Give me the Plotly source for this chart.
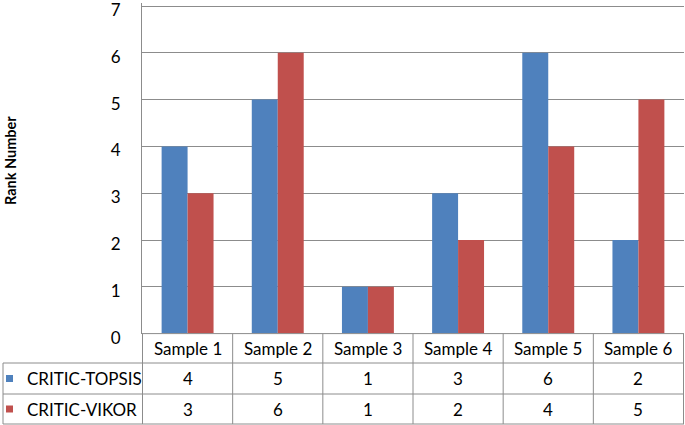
import plotly.graph_objects as go

categories = ["Sample 1", "Sample 2", "Sample 3", "Sample 4", "Sample 5", "Sample 6"]
series_names = ["CRITIC-TOPSIS", "CRITIC-VIKOR"]
topsis = [4, 5, 1, 3, 6, 2]
vikor = [3, 6, 1, 2, 4, 5]
y_ticks = [0, 1, 2, 3, 4, 5, 6, 7]
y_title = "Rank Number"

W, H = 685, 425
BLUE = "#4F81BD"
RED = "#C0504D"
GRID = "#8C8C8C"
FONT = "Lato"

def py(p):
    return (H - p) / H

def px(p):
    return p / W

x0_pix, x1_pix = 142, 684
y0_pix = 333.6
y_max = 7.06
y_top_pix = y0_pix - (y0_pix - 6) / 7 * y_max

fig = go.Figure()
for name, vals, col in [(series_names[0], topsis, BLUE), (series_names[1], vikor, RED)]:
    fig.add_trace(go.Bar(x=categories, y=vals, name=name,
                         marker=dict(color=col, line=dict(width=0))))

fig.update_layout(
    width=W, height=H,
    margin=dict(l=0, r=0, t=0, b=0, autoexpand=False),
    paper_bgcolor="white", plot_bgcolor="white",
    barmode="group", bargap=0.424, bargroupgap=0,
    showlegend=False,
    font=dict(family=FONT, size=17, color="black"),
    xaxis=dict(domain=[px(x0_pix), px(x1_pix)], showticklabels=False,
               showgrid=False, zeroline=False, showline=False, ticks="",
               automargin=False),
    yaxis=dict(domain=[py(y0_pix), py(y_top_pix)], range=[0, y_max],
               tickvals=y_ticks, showgrid=True, gridcolor=GRID, gridwidth=1,
               zeroline=False, showline=True, linecolor=GRID, linewidth=1,
               ticks="", ticklabelstandoff=17, ticklabeloverflow="allow",
               ticklabelshift=4,
               automargin=False,
               tickfont=dict(family=FONT, size=17)),
)

line = dict(color=GRID, width=1)
shapes = []
row_lines = [363, 394, 424]
for r in row_lines:
    shapes.append(dict(type="line", xref="paper", yref="paper",
                       x0=px(3), x1=px(x1_pix), y0=py(r), y1=py(r), line=line))
shapes.append(dict(type="line", xref="paper", yref="paper",
                   x0=px(x0_pix), x1=px(x1_pix), y0=py(y0_pix), y1=py(y0_pix), line=line))
shapes.append(dict(type="line", xref="paper", yref="paper",
                   x0=px(3), x1=px(3), y0=py(363), y1=py(424), line=line))
for i in range(len(categories) + 1):
    shapes.append(dict(type="line", xref="x", yref="paper",
                       x0=i - 0.5, x1=i - 0.5, y0=py(y0_pix), y1=py(424), line=line))
for r_center, col in [(378.5, BLUE), (409, RED)]:
    shapes.append(dict(type="rect", xref="paper", yref="paper",
                       x0=px(6), x1=px(13), y0=py(r_center - 3.5), y1=py(r_center + 3.5),
                       fillcolor=col, line=dict(width=0)))

annotations = []
header_y = py(348.5)
row_ys = [py(378.5), py(409)]
for c in categories:
    annotations.append(dict(x=c, y=header_y, xref="x", yref="paper", text=c,
                            showarrow=False, xanchor="center", yanchor="middle",
                            font=dict(family=FONT, size=17)))
for ry, name, vals in zip(row_ys, series_names, [topsis, vikor]):
    annotations.append(dict(x=px(25), y=ry, xref="paper", yref="paper", text=name,
                            showarrow=False, xanchor="left", yanchor="middle",
                            font=dict(family=FONT, size=17)))
    for c, v in zip(categories, vals):
        annotations.append(dict(x=c, y=ry, xref="x", yref="paper", text=str(v),
                                showarrow=False, xanchor="center", yanchor="middle",
                                font=dict(family=FONT, size=17)))
annotations.append(dict(x=px(11), y=py(161), xref="paper", yref="paper",
                        text="<b>" + y_title + "</b>", textangle=-90, showarrow=False,
                        xanchor="center", yanchor="middle",
                        font=dict(family=FONT, size=14.5)))

fig.update_layout(shapes=shapes, annotations=annotations)
fig.write_html("out.html", config={"displayModeBar": False},
               post_script="document.body.style.margin='0';document.body.style.overflow='hidden';")
